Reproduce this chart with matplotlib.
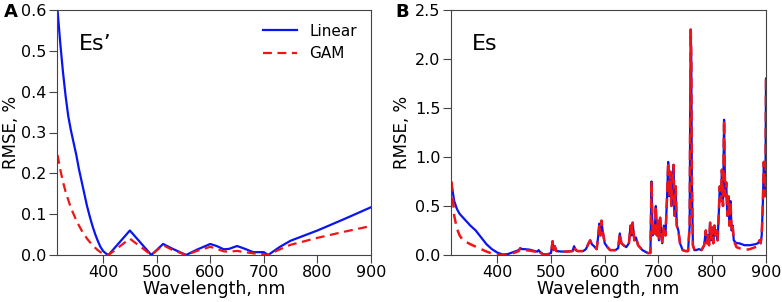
import matplotlib
matplotlib.use("Agg")
import matplotlib.pyplot as plt

# ---------- Panel A data (Es') ----------
x_a = [315, 320, 325, 330, 335, 340, 345, 350, 355, 360, 365, 370, 375, 380, 385,
       390, 395, 400, 405, 410, 450, 490, 512, 530, 555, 575, 600, 612, 625, 635,
       650, 665, 680, 700, 708, 730, 750, 800, 850, 900]
linear_a = [0.60, 0.52, 0.45, 0.39, 0.34, 0.305, 0.275, 0.245, 0.21, 0.18, 0.15, 0.12,
            0.095, 0.072, 0.052, 0.035, 0.02, 0.01, 0.004, 0.0, 0.06, 0.0, 0.027, 0.015,
            0.0, 0.013, 0.027, 0.022, 0.014, 0.015, 0.022, 0.015, 0.007, 0.007, 0.0,
            0.02, 0.035, 0.06, 0.088, 0.117]
gam_a = [0.245, 0.21, 0.18, 0.155, 0.135, 0.115, 0.10, 0.085, 0.072, 0.06, 0.05, 0.04,
         0.032, 0.024, 0.018, 0.012, 0.007, 0.004, 0.002, 0.0, 0.04, 0.0, 0.024, 0.012,
         0.0, 0.01, 0.02, 0.015, 0.009, 0.008, 0.01, 0.007, 0.004, 0.002, 0.0,
         0.014, 0.025, 0.042, 0.057, 0.071]

# ---------- Panel B data (Es) ----------
x_b = [315, 320, 325, 330, 335, 340, 350, 360, 370, 380, 390, 400, 410, 420, 430, 440,
       443, 446, 450, 460, 470, 475, 477, 480, 485, 490, 495, 500, 503, 505, 507, 510,
       520, 530, 540, 543, 546, 550, 560, 565, 570, 573, 576, 580, 585, 588, 590, 592,
       594, 596, 600, 605, 610, 620, 625, 628, 631, 635, 640, 645, 648, 650, 652, 655,
       658, 662, 670, 680, 685, 687, 689, 691, 693, 695, 697, 699, 701, 703, 705, 707,
       710, 713, 716, 718, 720, 722, 724, 726, 728, 730, 732, 734, 737, 740, 745, 750,
       755, 758, 759, 760, 761, 762, 764, 767, 770, 775, 780, 785, 788, 790, 792, 794,
       796, 798, 800, 802, 804, 806, 808, 810, 812, 814, 816, 818, 820, 822, 823, 824,
       826, 828, 830, 832, 834, 836, 838, 840, 845, 850, 860, 870, 880, 885, 888, 890,
       892, 894, 896, 898, 899, 900]
linear_b = [0.72, 0.55, 0.47, 0.42, 0.39, 0.36, 0.30, 0.25, 0.18, 0.11, 0.06, 0.025, 0.005,
            0.01, 0.03, 0.05, 0.07, 0.06, 0.06, 0.055, 0.04, 0.035, 0.05, 0.03, 0.01, 0.005,
            0.01, 0.02, 0.14, 0.05, 0.09, 0.04, 0.035, 0.035, 0.04, 0.09, 0.05, 0.04, 0.04,
            0.06, 0.12, 0.15, 0.11, 0.09, 0.06, 0.2, 0.32, 0.2, 0.35, 0.25, 0.12, 0.08, 0.05,
            0.05, 0.07, 0.22, 0.12, 0.1, 0.08, 0.12, 0.3, 0.2, 0.33, 0.15, 0.18, 0.1, 0.05,
            0.02, 0.02, 0.75, 0.2, 0.3, 0.22, 0.5, 0.2, 0.35, 0.15, 0.38, 0.25, 0.12, 0.3,
            0.2, 0.6, 0.95, 0.6, 0.85, 0.5, 0.75, 0.92, 0.4, 0.7, 0.3, 0.25, 0.12, 0.05, 0.04,
            0.04, 0.3, 1.5, 2.3, 2.0, 0.8, 0.1, 0.05, 0.05, 0.06, 0.05, 0.1, 0.25, 0.12, 0.2,
            0.1, 0.33, 0.15, 0.28, 0.12, 0.3, 0.2, 0.25, 0.15, 0.4, 0.7, 0.55, 0.87, 0.5,
            1.38, 1.0, 0.6, 0.74, 0.4, 0.6, 0.3, 0.55, 0.25, 0.3, 0.15, 0.12, 0.12, 0.1, 0.1,
            0.11, 0.12, 0.15, 0.12, 0.2, 0.5, 0.95, 0.6, 0.7, 1.8]
gam_b = [0.75, 0.40, 0.27, 0.20, 0.16, 0.14, 0.11, 0.085, 0.06, 0.035, 0.015, 0.005, 0.0,
         0.005, 0.02, 0.04, 0.07, 0.05, 0.05, 0.045, 0.035, 0.03, 0.05, 0.025, 0.008, 0.004,
         0.01, 0.02, 0.14, 0.05, 0.09, 0.04, 0.035, 0.035, 0.04, 0.09, 0.05, 0.04, 0.04,
         0.06, 0.12, 0.15, 0.11, 0.09, 0.06, 0.2, 0.32, 0.2, 0.35, 0.25, 0.12, 0.08, 0.05,
         0.05, 0.07, 0.22, 0.12, 0.1, 0.08, 0.12, 0.3, 0.2, 0.33, 0.15, 0.18, 0.1, 0.05,
         0.02, 0.02, 0.75, 0.2, 0.3, 0.22, 0.5, 0.2, 0.35, 0.15, 0.38, 0.25, 0.12, 0.3,
         0.2, 0.6, 0.95, 0.6, 0.85, 0.5, 0.75, 0.92, 0.4, 0.7, 0.3, 0.25, 0.12, 0.05, 0.04,
         0.04, 0.3, 1.5, 2.3, 2.0, 0.8, 0.1, 0.05, 0.05, 0.06, 0.05, 0.1, 0.25, 0.12, 0.2,
         0.1, 0.33, 0.15, 0.28, 0.12, 0.3, 0.2, 0.25, 0.15, 0.4, 0.7, 0.55, 0.87, 0.5,
         1.38, 1.0, 0.6, 0.74, 0.4, 0.6, 0.3, 0.55, 0.25, 0.3, 0.15, 0.08, 0.07, 0.05, 0.06,
         0.08, 0.09, 0.15, 0.12, 0.2, 0.5, 0.95, 0.6, 0.7, 1.8]

plt.rcParams['font.family'] = ['DejaVu Sans']
W, H = 782, 302
fig = plt.figure(figsize=(W / 100, H / 100), dpi=100)

def add_axes(l, r, t, b):
    return fig.add_axes([l / W, 1 - b / H, (r - l) / W, (b - t) / H])

spine_c = '#444444'

def style(ax, ylim, yticks, xlim, ylab_x):
    ax.set_xlim(*xlim)
    ax.set_ylim(*ylim)
    ax.set_yticks(yticks)
    ax.set_xticks([400, 500, 600, 700, 800, 900])
    ax.tick_params(labelsize=11.5, color=spine_c, length=6, pad=1.5)
    for s in ax.spines.values():
        s.set_color(spine_c)
    ax.set_xlabel('Wavelength, nm', fontsize=12.5, labelpad=0)
    ax.set_ylabel('RMSE, %', fontsize=12)
    ax.yaxis.set_label_coords(ylab_x, 0.5)

axA = add_axes(57, 371, 10, 255)
axA.plot(x_a, linear_a, color='#0a14f0', lw=1.6, label='Linear')
axA.plot(x_a, gam_a, color='#f01414', lw=1.6, ls=(0, (4, 2.5)), label='GAM')
style(axA, (0, 0.6), [0.0, 0.1, 0.2, 0.3, 0.4, 0.5, 0.6], (314, 900), -0.118)
axA.yaxis.set_major_formatter(matplotlib.ticker.FormatStrFormatter('%.1f'))
axA.legend(loc='upper right', frameon=False, fontsize=11, handlelength=2.2,
           handletextpad=0.85, borderaxespad=0.5, labelspacing=0.5)
axA.text(0.07, 0.86, 'Es\u2019', transform=axA.transAxes, fontsize=16, va='center')
fig.text(4 / W, 1 - 12 / H, 'A', fontsize=13, fontweight='bold', va='center')

axB = add_axes(451, 766, 10, 255)
axB.plot(x_b, linear_b, color='#0a14f0', lw=1.6)
axB.plot(x_b, gam_b, color='#f01414', lw=1.8, ls=(0, (4, 2.5)))
style(axB, (0, 2.5), [0.0, 0.5, 1.0, 1.5, 2.0, 2.5], (314, 900), -0.127)
axB.yaxis.set_major_formatter(matplotlib.ticker.FormatStrFormatter('%.1f'))
axB.text(0.065, 0.86, 'Es', transform=axB.transAxes, fontsize=16, va='center')
fig.text(395 / W, 1 - 12 / H, 'B', fontsize=13, fontweight='bold', va='center')

fig.savefig('out.png', dpi=100)
